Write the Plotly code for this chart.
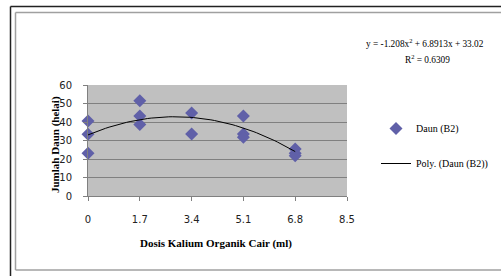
import plotly.graph_objects as go
import numpy as np

# Data
dose_x = [0, 0, 0, 1.7, 1.7, 1.7, 3.4, 3.4, 5.1, 5.1, 5.1, 6.8, 6.8, 6.8]
daun_y = [40.5, 33.4, 23.1, 51.5, 43.2, 38.7, 44.8, 33.5, 43.2, 33.5, 31.7, 25.4, 23.1, 21.8]
x_ticks = [0, 1.7, 3.4, 5.1, 6.8, 8.5]
x_tick_labels = ["0", "1.7", "3.4", "5.1", "6.8", "8.5"]
y_ticks = [0, 10, 20, 30, 40, 50, 60]
poly_coef = [-1.208, 6.8913, 33.02]

W, H = 501, 276
L, R, T, B = 88, 347, 85, 196

def px(x):
    return (x - L) / (R - L)

def py(y):
    return (B - y) / (B - T)

trend_x = np.linspace(0, 6.8, 60)
trend_y = np.polyval(poly_coef, trend_x)

fig = go.Figure()
fig.add_trace(go.Scatter(
    x=dose_x, y=daun_y, mode="markers", name="Daun (B2)", legendgroup="a",
    marker=dict(symbol="diamond", size=10, color="#6060a8"),
    cliponaxis=False,
))
fig.add_trace(go.Scatter(
    x=trend_x, y=trend_y, mode="lines", name="Poly. (Daun (B2))", legendgroup="b",
    line=dict(color="black", width=1),
))

fig.update_layout(
    width=W, height=H,
    autosize=False,
    margin=dict(l=L, r=W - R, t=T, b=H - B, pad=0, autoexpand=False),
    paper_bgcolor="white",
    plot_bgcolor="#c0c0c0",
    showlegend=True,
    legend=dict(x=px(376), y=py(114), xanchor="left", yanchor="top",
                font=dict(family="Liberation Serif", size=10, color="black"),
                bgcolor="rgba(0,0,0,0)", itemwidth=30, traceorder="grouped",
                tracegroupgap=16),
    xaxis=dict(range=[0, 8.5], tickvals=x_ticks, ticktext=x_tick_labels,
               showgrid=False, zeroline=False, showline=True, automargin=False,
               linecolor="#808080", linewidth=1, ticks="outside", ticklen=4,
               tickcolor="#808080", ticklabelstandoff=10,
               tickfont=dict(family="DejaVu Sans", size=10, color="#222")),
    yaxis=dict(range=[0, 60], tickvals=y_ticks,
               showgrid=True, gridcolor="#808080", gridwidth=1,
               zeroline=False, showline=True, automargin=False,
               linecolor="#808080", linewidth=1, ticks="outside", ticklen=4,
               tickcolor="#808080", ticklabelstandoff=9,
               tickfont=dict(family="DejaVu Sans", size=10, color="#222")),
    annotations=[
        dict(xref="paper", yref="paper", x=px(55), y=py(145), xanchor="center", yanchor="middle",
             text="<b>Jumlah Daun (helai)</b>", textangle=-90, showarrow=False,
             font=dict(family="Liberation Serif", size=11, color="black")),
        dict(xref="paper", yref="paper", x=px(216), y=py(243), xanchor="center", yanchor="middle",
             text="<b>Dosis Kalium Organik Cair (ml)</b>", showarrow=False,
             font=dict(family="Liberation Serif", size=11, color="black")),
        dict(xref="paper", yref="paper", x=px(425), y=py(43), xanchor="center", yanchor="middle",
             text="y = -1.208x<sup>2</sup> + 6.8913x + 33.02", showarrow=False,
             font=dict(family="Liberation Serif", size=9.3, color="black")),
        dict(xref="paper", yref="paper", x=px(427), y=py(59), xanchor="center", yanchor="middle",
             text="R<sup>2</sup> = 0.6309", showarrow=False,
             font=dict(family="Liberation Serif", size=9.3, color="black")),
    ],
    shapes=[
        dict(type="line", xref="paper", yref="paper", x0=px(10.5), x1=px(520), y0=py(6.5), y1=py(6.5),
             line=dict(color="#222", width=1.5)),
        dict(type="line", xref="paper", yref="paper", x0=px(10.5), x1=px(10.5), y0=py(6.5), y1=py(290),
             line=dict(color="#222", width=1.5)),
        dict(type="line", xref="paper", yref="paper", x0=px(15.5), x1=px(520), y0=py(12.5), y1=py(12.5),
             line=dict(color="#a0a0a0", width=1.5)),
        dict(type="line", xref="paper", yref="paper", x0=px(15.5), x1=px(15.5), y0=py(12.5), y1=py(270),
             line=dict(color="#a0a0a0", width=1.5)),
        dict(type="line", xref="paper", yref="paper", x0=px(15.5), x1=px(520), y0=py(270), y1=py(270),
             line=dict(color="#a0a0a0", width=1.5)),
    ],
)

fig.write_html("out.html", config={"displayModeBar": False},
               post_script="document.body.style.margin='0';document.body.style.padding='0';")
